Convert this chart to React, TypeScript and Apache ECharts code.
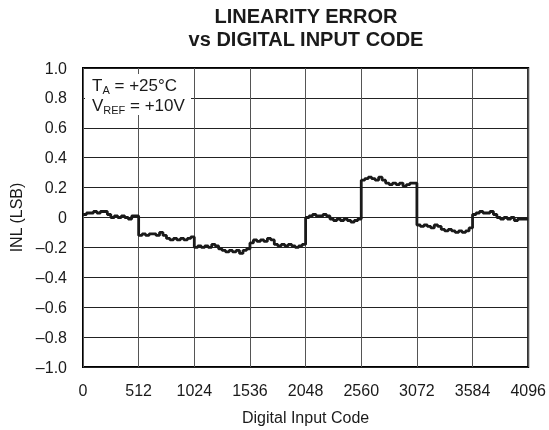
import React, { useEffect, useRef } from "react";
import * as echarts from "echarts";

// Digital input codes, sampled every 32 codes
const codeStep = 32;
const xTicks = [0, 512, 1024, 1536, 2048, 2560, 3072, 3584, 4096];
const yTicks = [-1.0, -0.8, -0.6, -0.4, -0.2, 0, 0.2, 0.4, 0.6, 0.8, 1.0];

// INL values (LSB), one per 32-code step, per 512-code segment
const seg0 = [0.02, 0.03, 0.03, 0.04, 0.03, 0.04, 0.04, 0.02, 0.0, 0.01, 0.0, 0.01, 0.0, -0.01, 0.01, 0.01];
const seg1 = [-0.12, -0.11, -0.12, -0.11, -0.11, -0.12, -0.1, -0.12, -0.14, -0.15, -0.14, -0.15, -0.14, -0.15, -0.14, -0.13];
const seg2 = [-0.2, -0.19, -0.2, -0.19, -0.2, -0.18, -0.19, -0.21, -0.22, -0.23, -0.22, -0.23, -0.22, -0.24, -0.22, -0.21];
const seg3 = [-0.17, -0.15, -0.16, -0.15, -0.16, -0.14, -0.15, -0.18, -0.19, -0.18, -0.19, -0.18, -0.19, -0.2, -0.19, -0.18];
const seg4 = [0.0, 0.01, 0.02, 0.01, 0.01, 0.02, 0.01, -0.01, -0.02, -0.01, -0.02, -0.01, -0.02, -0.03, -0.02, -0.01];
const seg5 = [0.25, 0.26, 0.27, 0.26, 0.25, 0.27, 0.25, 0.23, 0.22, 0.23, 0.22, 0.23, 0.21, 0.22, 0.23, 0.23];
const seg6 = [-0.05, -0.06, -0.05, -0.06, -0.07, -0.05, -0.06, -0.08, -0.09, -0.08, -0.09, -0.1, -0.09, -0.1, -0.09, -0.07];
const seg7 = [0.02, 0.03, 0.04, 0.03, 0.03, 0.04, 0.02, 0.0, -0.01, 0.0, -0.01, 0.0, -0.02, -0.01, -0.01, -0.01];

const inlValues = [...seg0, ...seg1, ...seg2, ...seg3, ...seg4, ...seg5, ...seg6, ...seg7];

const fmtY = (v: number) => {
  if (Math.abs(v) < 1e-9) return "0";
  return v.toFixed(1).replace("-", "\u2013");
};

export default function App() {
  const ref = useRef<HTMLDivElement>(null);
  useEffect(() => {
    if (!ref.current) return;
    const chart = echarts.init(ref.current, undefined, { renderer: "svg" });
    const data: [number, number][] = inlValues.map((v, i) => [i * codeStep, v]);
    data.push([inlValues.length * codeStep, inlValues[inlValues.length - 1]]);
    const font = "Liberation Sans, Arial, Helvetica, sans-serif";
    const ink = "#1a1a1a";
    chart.setOption({
      animation: false,
      textStyle: { fontFamily: font },
      title: {
        text: "LINEARITY ERROR\nvs DIGITAL INPUT CODE",
        left: 306,
        top: 4,
        padding: 0,
        textAlign: "center",
        textStyle: { fontFamily: font, fontSize: 20, fontWeight: "bold", color: ink, lineHeight: 23 },
      },
      grid: {
        left: 83,
        right: 20,
        top: 68,
        bottom: 59,
        show: true,
        borderColor: "#000",
        borderWidth: 2,
        backgroundColor: "transparent",
      },
      xAxis: {
        type: "value",
        min: 0,
        max: 4096,
        interval: 512,
        name: "Digital Input Code",
        nameLocation: "middle",
        nameGap: 42,
        nameTextStyle: { fontFamily: font, fontSize: 16, color: ink },
        axisLine: { show: false },
        axisTick: { show: false },
        axisLabel: { fontFamily: font, fontSize: 16, color: ink, margin: 15, formatter: (v: number) => String(v) },
        splitLine: { show: true, lineStyle: { color: "#555", width: 1 } },
      },
      yAxis: {
        type: "value",
        min: -1,
        max: 1,
        interval: 0.2,
        name: "INL (LSB)",
        nameLocation: "middle",
        nameGap: 57,
        nameTextStyle: { fontFamily: font, fontSize: 16, color: ink },
        axisLine: { show: false },
        axisTick: { show: false },
        axisLabel: { fontFamily: font, fontSize: 16, color: ink, margin: 16, formatter: fmtY },
        splitLine: { show: true, lineStyle: { color: "#222", width: 1 } },
      },
      graphic: [
        {
          type: "rect",
          shape: { x: 85, y: 74, width: 106, height: 41 },
          style: { fill: "#fff" },
          z: 10,
        },
        { type: "text", x: 92, y: 85, z: 11, style: { text: "T", fontFamily: font, fontSize: 17, fill: ink, verticalAlign: "middle" } },
        { type: "text", x: 102.4, y: 90, z: 11, style: { text: "A", fontFamily: font, fontSize: 11, fill: ink, verticalAlign: "middle" } },
        { type: "text", x: 109.8, y: 85, z: 11, style: { text: " = +25°C", fontFamily: font, fontSize: 17, fill: ink, verticalAlign: "middle" } },
        { type: "text", x: 92, y: 105, z: 11, style: { text: "V", fontFamily: font, fontSize: 17, fill: ink, verticalAlign: "middle" } },
        { type: "text", x: 103.3, y: 110, z: 11, style: { text: "REF", fontFamily: font, fontSize: 11, fill: ink, verticalAlign: "middle" } },
        { type: "text", x: 125.3, y: 105, z: 11, style: { text: " = +10V", fontFamily: font, fontSize: 17, fill: ink, verticalAlign: "middle" } },
      ],
      series: [
        {
          type: "line",
          data,
          step: "end",
          showSymbol: false,
          lineStyle: { color: ink, width: 2.8 },
          z: 5,
        },
      ],
    });
    return () => chart.dispose();
  }, []);
  return <div ref={ref} style={{ position: "fixed", left: 0, top: 0, width: 549, height: 430 }} />;
}
